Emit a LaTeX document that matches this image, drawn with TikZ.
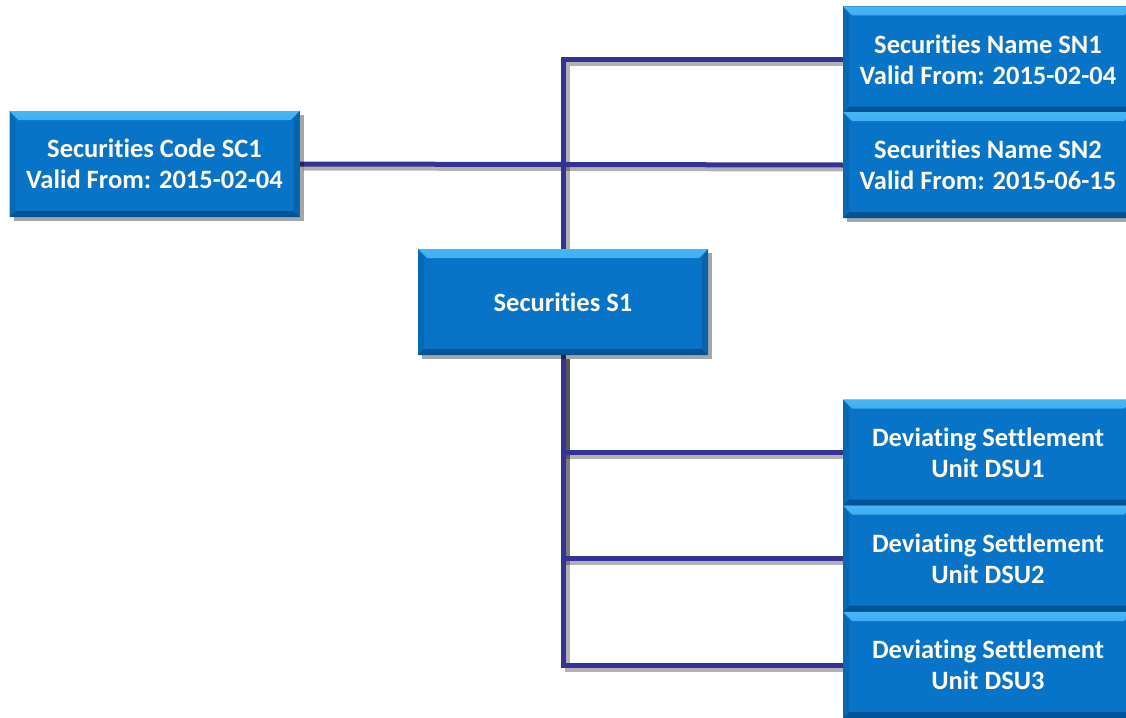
\documentclass[tikz,border=0pt]{standalone}
\usepackage{fontspec}
\setmainfont{Carlito}[Ligatures=NoCommon]
\usetikzlibrary{shadows,backgrounds}
\definecolor{boxblue}{RGB}{8,116,200}
\definecolor{boxlight}{RGB}{70,180,245}
\definecolor{boxdark}{RGB}{0,84,150}
\definecolor{linecol}{RGB}{52,50,150}
\definecolor{txtcol}{RGB}{255,250,235}
\tikzset{
  bbox/.style={minimum width=290pt, minimum height=106pt, inner sep=0pt,
    fill=boxblue, align=center, text=txtcol,
    font=\fontsize{26.5}{31}\selectfont\bfseries,
    drop shadow={shadow xshift=4pt, shadow yshift=-4pt, opacity=0.35, fill=black},
    path picture={
      \fill[top color=boxlight, bottom color=boxblue]
        (path picture bounding box.north west) -- (path picture bounding box.north east)
        -- ([xshift=-9pt,yshift=-9pt]path picture bounding box.north east)
        -- ([xshift=9pt,yshift=-9pt]path picture bounding box.north west) -- cycle;
      \fill[boxdark]
        (path picture bounding box.south west) -- (path picture bounding box.south east)
        -- ([xshift=-6pt,yshift=6pt]path picture bounding box.south east)
        -- ([xshift=6pt,yshift=6pt]path picture bounding box.south west) -- cycle;
      \fill[boxblue!85!black]
        (path picture bounding box.north east) -- (path picture bounding box.south east)
        -- ([xshift=-6pt,yshift=6pt]path picture bounding box.south east)
        -- ([xshift=-6pt,yshift=-9pt]path picture bounding box.north east) -- cycle;
      \fill[boxblue!90!black]
        (path picture bounding box.north west) -- (path picture bounding box.south west)
        -- ([xshift=6pt,yshift=6pt]path picture bounding box.south west)
        -- ([xshift=6pt,yshift=-9pt]path picture bounding box.north west) -- cycle;
    }},
  conn/.style={draw=linecol, line width=5pt},
  connshadow/.style={draw=black, opacity=0.3, line width=5pt}
}
\begin{document}
\begin{tikzpicture}[x=1pt,y=-1pt]
\useasboundingbox (0,0) rectangle (1126,717);
\node[bbox] (sc1) at (154.5,164) {Securities Code SC1\\Valid From: 2015-02-04};
\node[bbox] (s1) at (563,302) {Securities S1};
\node[bbox] (sn1) at (988,59.5) {Securities Name SN1\\Valid From: 2015-02-04};
\node[bbox] (sn2) at (988,165) {Securities Name SN2\\Valid From: 2015-06-15};
\node[bbox] (dsu1) at (988,452.5) {Deviating Settlement\\Unit DSU1};
\node[bbox] (dsu2) at (988,558.5) {Deviating Settlement\\Unit DSU2};
\node[bbox] (dsu3) at (988,665) {Deviating Settlement\\Unit DSU3};
\begin{scope}[on background layer]
  \begin{scope}[transform canvas={shift={(4pt,-4pt)}}]
    \draw[connshadow] (sc1.east) -- (sn2.west);
    \draw[connshadow] (s1.north) |- (sn1.west);
    \draw[connshadow] (s1.south) |- (dsu1.west);
    \draw[connshadow] (s1.south) |- (dsu2.west);
    \draw[connshadow] (s1.south) |- (dsu3.west);
  \end{scope}
  \draw[conn] (sc1.east) -- (sn2.west);
  \draw[conn] (s1.north) |- (sn1.west);
  \draw[conn] (s1.south) |- (dsu1.west);
  \draw[conn] (s1.south) |- (dsu2.west);
  \draw[conn] (s1.south) |- (dsu3.west);
\end{scope}
\end{tikzpicture}
\end{document}
